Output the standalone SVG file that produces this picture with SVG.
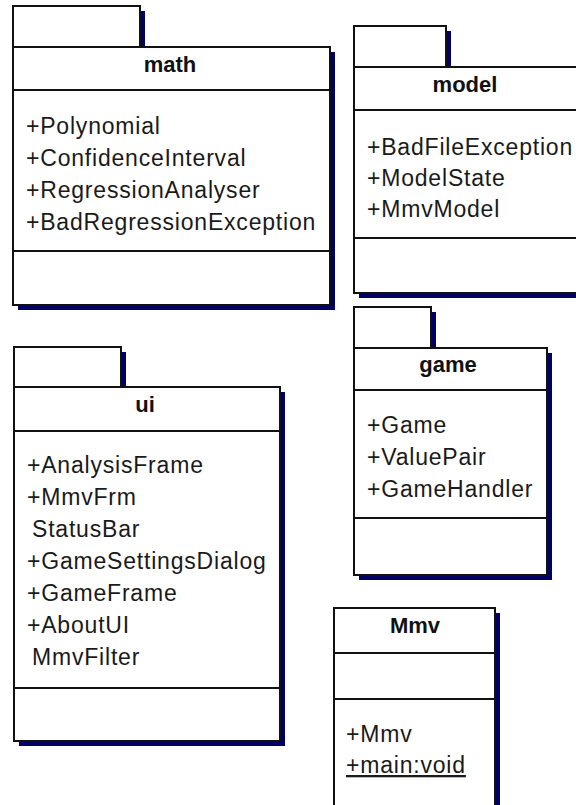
<svg xmlns="http://www.w3.org/2000/svg" xmlns:xlink="http://www.w3.org/1999/xlink" width="576" height="805" viewBox="0 0 576 805">
  <style>
    .shadow { fill: #000066; }
    .box { fill: #ffffff; stroke: #111111; stroke-width: 2; }
    .sep { stroke: #111111; stroke-width: 2; fill: none; }
    .title { font-family: "Liberation Sans", Arial, sans-serif; font-weight: bold; font-size: 22px; fill: #111111; text-anchor: middle; }
    .item { font-family: "Liberation Sans", Arial, sans-serif; font-size: 23px; letter-spacing: 0.8px; fill: #1a1a1a; }
  </style>
  <rect width="576" height="805" fill="#ffffff"/>

  <!-- package: math -->
  <g id="math">
    <path class="shadow" transform="translate(5,5)" d="M13,6 H140 V47 H330 V305 H13 Z"/>
    <rect class="box" x="13" y="6" width="127" height="41"/>
    <rect class="box" x="13" y="47" width="317" height="258"/>
    <line class="sep" x1="13" y1="90" x2="330" y2="90"/>
    <line class="sep" x1="13" y1="251" x2="330" y2="251"/>
    <text class="title" x="170" y="72">math</text>
    <text class="item" x="26" y="134">+Polynomial</text>
    <text class="item" x="26" y="166">+ConfidenceInterval</text>
    <text class="item" x="26" y="198">+RegressionAnalyser</text>
    <text class="item" x="26" y="230">+BadRegressionException</text>
  </g>

  <!-- package: model -->
  <g id="model">
    <path class="shadow" transform="translate(5,5)" d="M354,26 H446 V67 H600 V293 H354 Z"/>
    <rect class="box" x="354" y="26" width="92" height="41"/>
    <rect class="box" x="354" y="67" width="246" height="226"/>
    <line class="sep" x1="354" y1="110" x2="600" y2="110"/>
    <line class="sep" x1="354" y1="238" x2="600" y2="238"/>
    <text class="title" x="465" y="92">model</text>
    <text class="item" x="367" y="155">+BadFileException</text>
    <text class="item" x="367" y="186">+ModelState</text>
    <text class="item" x="367" y="217">+MmvModel</text>
  </g>

  <!-- package: game -->
  <g id="game">
    <path class="shadow" transform="translate(5,5)" d="M354,307 H431 V348 H547 V575 H354 Z"/>
    <rect class="box" x="354" y="307" width="77" height="41"/>
    <rect class="box" x="354" y="348" width="193" height="227"/>
    <line class="sep" x1="354" y1="390" x2="547" y2="390"/>
    <line class="sep" x1="354" y1="518" x2="547" y2="518"/>
    <text class="title" x="448" y="372">game</text>
    <text class="item" x="367" y="433">+Game</text>
    <text class="item" x="367" y="465">+ValuePair</text>
    <text class="item" x="367" y="497">+GameHandler</text>
  </g>

  <!-- package: ui -->
  <g id="ui">
    <path class="shadow" transform="translate(5,5)" d="M14,347 H121 V387 H280 V741 H14 Z"/>
    <rect class="box" x="14" y="347" width="107" height="40"/>
    <rect class="box" x="14" y="387" width="266" height="354"/>
    <line class="sep" x1="14" y1="431" x2="280" y2="431"/>
    <line class="sep" x1="14" y1="688" x2="280" y2="688"/>
    <text class="title" x="145" y="412">ui</text>
    <text class="item" x="27" y="473">+AnalysisFrame</text>
    <text class="item" x="27" y="505">+MmvFrm</text>
    <text class="item" x="32" y="537">StatusBar</text>
    <text class="item" x="27" y="569">+GameSettingsDialog</text>
    <text class="item" x="27" y="601">+GameFrame</text>
    <text class="item" x="27" y="633">+AboutUI</text>
    <text class="item" x="32" y="665">MmvFilter</text>
  </g>

  <!-- class: Mmv -->
  <g id="Mmv">
    <rect class="shadow" x="339" y="613" width="161" height="202"/>
    <rect class="box" x="334" y="608" width="161" height="202"/>
    <line class="sep" x1="334" y1="653" x2="495" y2="653"/>
    <line class="sep" x1="334" y1="699" x2="495" y2="699"/>
    <text class="title" x="415" y="633">Mmv</text>
    <text class="item" x="346" y="742">+Mmv</text>
    <text class="item" x="346" y="773" text-decoration="underline">+main:void</text>
  </g>
</svg>
